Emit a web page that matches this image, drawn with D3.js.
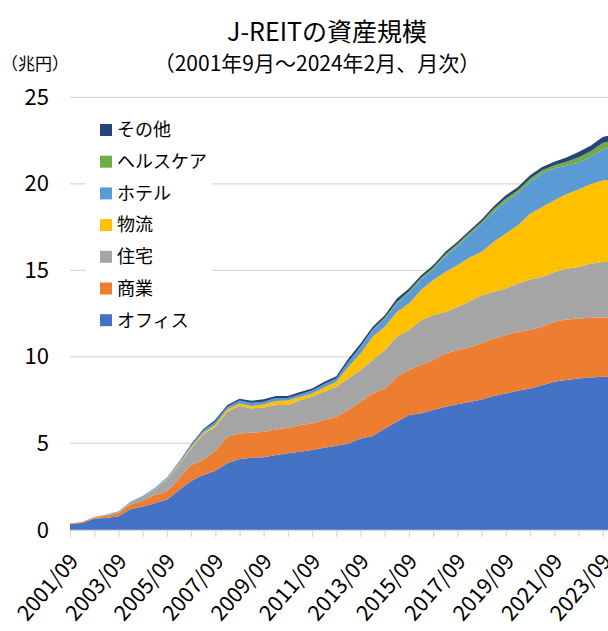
<!DOCTYPE html>
<html><head><meta charset="utf-8">
<script src="https://cdn.jsdelivr.net/npm/d3@7/dist/d3.min.js"></script>
<style>
html,body{margin:0;padding:0;background:#fff;}
svg{display:block;font-family:"Noto Sans CJK JP","Noto Sans",sans-serif;}
</style></head>
<body>
<svg id="chart" width="608" height="631"></svg>
<script>
const months = ["2001-09","2002-03","2002-09","2003-03","2003-09","2004-03","2004-09","2005-03","2005-09","2006-03",
"2006-09","2007-03","2007-09","2008-03","2008-09","2009-03","2009-09","2010-03","2010-09","2011-03",
"2011-09","2012-03","2012-09","2013-03","2013-09","2014-03","2014-09","2015-03","2015-09","2016-03",
"2016-09","2017-03","2017-09","2018-03","2018-09","2019-03","2019-09","2020-03","2020-09","2021-03",
"2021-09","2022-03","2022-09","2023-03","2023-09","2024-02"];
const office = [0.35,0.40,0.65,0.70,0.80,1.20,1.35,1.54,1.75,2.30,
2.83,3.18,3.42,3.85,4.10,4.18,4.20,4.33,4.43,4.52,
4.62,4.75,4.87,5.00,5.29,5.43,5.87,6.25,6.64,6.74,
6.93,7.12,7.27,7.40,7.54,7.74,7.89,8.04,8.18,8.37,
8.56,8.66,8.76,8.81,8.85,8.85];
const retail = [0.02,0.06,0.07,0.13,0.20,0.28,0.34,0.48,0.47,0.68,
0.92,0.86,1.16,1.54,1.48,1.44,1.48,1.48,1.48,1.54,
1.54,1.60,1.67,1.93,2.12,2.46,2.31,2.60,2.60,2.79,
2.89,3.08,3.12,3.15,3.27,3.33,3.37,3.41,3.37,3.37,
3.47,3.50,3.46,3.45,3.43,3.45];
const residential = [0,0,0.02,0.04,0.05,0.09,0.21,0.31,0.70,0.77,
0.95,1.51,1.37,1.44,1.58,1.40,1.40,1.41,1.31,1.44,
1.54,1.64,1.73,1.83,1.83,1.93,2.21,2.31,2.31,2.59,
2.59,2.40,2.50,2.65,2.76,2.69,2.70,2.79,2.92,2.88,
2.88,2.94,2.98,3.13,3.21,3.20];
const logistics = [0,0,0,0,0,0.01,0.01,0.02,0.03,0.07,
0.08,0.07,0.13,0.14,0.15,0.14,0.19,0.23,0.26,0.20,
0.19,0.25,0.29,0.67,0.96,1.34,1.35,1.44,1.54,1.74,
2.04,2.31,2.41,2.55,2.50,2.89,3.17,3.37,3.80,4.04,
4.14,4.30,4.47,4.58,4.71,4.75];
const hotel = [0,0,0.01,0.02,0.03,0.05,0.06,0.07,0.08,0.12,
0.12,0.13,0.19,0.15,0.17,0.19,0.14,0.17,0.14,0.15,
0.17,0.19,0.20,0.29,0.38,0.39,0.48,0.49,0.61,0.62,
0.60,0.89,1.10,1.30,1.61,1.73,1.85,1.84,1.85,1.94,
1.85,1.65,1.55,1.58,1.78,1.87];
const healthcare = [0,0,0,0,0,0,0,0,0,0,
0,0,0,0,0,0,0,0,0,0,
0,0,0,0,0.02,0.03,0.05,0.09,0.10,0.10,
0.10,0.13,0.12,0.13,0.12,0.17,0.18,0.18,0.18,0.18,
0.18,0.23,0.30,0.33,0.38,0.38];
const other = [0,0,0,0,0,0,0,0,0,0,
0.06,0.07,0.10,0.10,0.10,0.12,0.14,0.12,0.12,0.12,
0.12,0.13,0.13,0.19,0.18,0.16,0.14,0.20,0.15,0.14,
0.15,0.14,0.13,0.12,0.14,0.16,0.18,0.19,0.20,0.20,
0.19,0.24,0.32,0.32,0.34,0.35];

const seriesNames = ["オフィス","商業","住宅","物流","ホテル","ヘルスケア","その他"];
const seriesValues = [office, retail, residential, logistics, hotel, healthcare, other];
const seriesColors = ["#4472C4","#ED7D31","#A5A5A5","#FFC000","#5B9BD5","#70AD47","#264478"];
const yTicks = [0,5,10,15,20,25];
const xLabelEvery = 24;

const svg = d3.select("#chart");
const monthIndex = s => { const [y,m] = s.split("-").map(Number); return (y-2001)*12 + (m-9); };
const rows = months.map((m,i) => {
  const r = {t: monthIndex(m)};
  seriesNames.forEach((n,k) => r[n] = seriesValues[k][i]);
  return r;
});

const x = d3.scaleLinear().domain([0,264]).range([70,602.7]);
const y = d3.scaleLinear().domain([0,25]).range([530,97.3]);

// gridlines
svg.append("g").selectAll("line").data(yTicks.filter(v=>v>0)).join("line")
  .attr("x1",70).attr("x2",608).attr("y1",d=>y(d)).attr("y2",d=>y(d))
  .attr("stroke","#d9d9d9").attr("stroke-width",1.3);

// stacked areas
const stack = d3.stack().keys(seriesNames);
const layers = stack(rows);
const area = d3.area().x(d=>x(d.data.t)).y0(d=>y(d[0])).y1(d=>y(d[1]));
svg.append("g").selectAll("path").data(layers).join("path")
  .attr("d",area).attr("fill",(d,i)=>seriesColors[i]);

// x axis
const xa = svg.append("g").attr("transform","translate(0,530)")
  .call(d3.axisBottom(x).tickValues(d3.range(0,265,12)).tickSize(7).tickFormat(""));
xa.select(".domain").attr("stroke","#d9d9d9").attr("stroke-width",1.3).attr("d","M70,0.5H608");
xa.selectAll(".tick line").attr("stroke","#d9d9d9").attr("stroke-width",1.3);
const fmt = t => { const yy = 2001 + Math.floor((t+8)/12); const mm = ((t+8)%12)+1; return yy + "/" + String(mm).padStart(2,"0"); };
svg.append("g").selectAll("text").data(d3.range(0,265,xLabelEvery)).join("text")
  .attr("transform",d=>`translate(${x(d)+4},557) rotate(-49)`)
  .attr("text-anchor","end").attr("dy","0.35em")
  .attr("font-size",21.5).attr("fill","#000").text(fmt);

// y axis labels
const ya = svg.append("g").attr("transform","translate(49,0)")
  .call(d3.axisLeft(y).tickValues(yTicks).tickSize(0).tickPadding(0));
ya.select(".domain").remove();
ya.selectAll("text").attr("font-size",22).attr("fill","#000")
  .attr("font-family","\"Noto Sans CJK JP\",sans-serif");

// legend
const lg = svg.append("g");
lg.append("rect").attr("x",86).attr("y",112).attr("width",126).attr("height",224).attr("fill","#fff");
const legendOrder = seriesNames.map((n,i)=>i).reverse();
legendOrder.forEach((k,j) => {
  const cy = 130 + j*31.7;
  lg.append("rect").attr("x",100).attr("y",cy-6).attr("width",12).attr("height",12).attr("fill",seriesColors[k]);
  lg.append("text").attr("x",117).attr("y",cy).attr("dy","0.35em").attr("font-size",18).attr("fill","#000").text(seriesNames[k]);
});

// titles
svg.append("text").attr("x",327).attr("y",41).attr("text-anchor","middle").attr("font-size",25).attr("fill","#000").text("J-REITの資産規模");
svg.append("text").attr("x",317).attr("y",71).attr("text-anchor","middle").attr("font-size",21).attr("fill","#000").text("（2001年9月～2024年2月、月次）");
svg.append("text").attr("x",1).attr("y",70).attr("font-size",17).attr("fill","#000").text("（兆円）");
</script>
</body></html>
